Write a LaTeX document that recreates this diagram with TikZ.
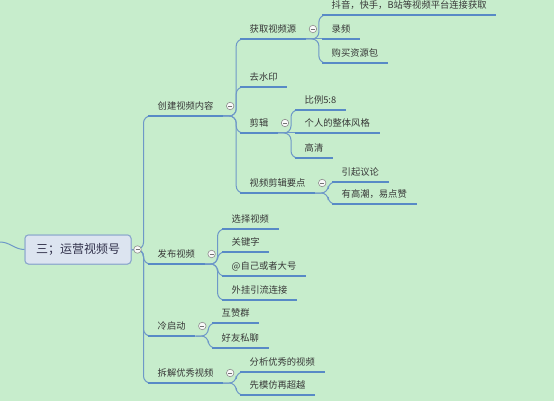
\documentclass[tikz,border=0pt]{standalone}
\usepackage{fontspec}
\newfontfamily\cjk{Noto Sans CJK SC}
\definecolor{bgc}{RGB}{199,237,204}
\definecolor{ulc}{RGB}{88,138,198}
\definecolor{cnc}{RGB}{110,152,200}
\definecolor{txc}{RGB}{55,55,55}
\definecolor{rootfill}{RGB}{220,228,240}
\definecolor{rootdraw}{RGB}{140,168,204}
\tikzset{
  topic/.style={anchor=south west, font=\cjk\fontsize{9.3}{11}\selectfont, text=txc,
    inner xsep=9.5pt, inner ysep=4pt, text height=7.5pt, text depth=2pt},
  rootbox/.style={draw=rootdraw, fill=rootfill, line width=1pt, rounded corners=3.5pt,
    minimum width=106pt, minimum height=29pt, inner sep=0pt,
    font=\cjk\fontsize{12}{14}\selectfont, text=txc!90!blue},
  uline/.style={ulc, line width=2.3pt},
  conn/.style={cnc, line width=1pt, rounded corners=7pt},
  collapse/.style={circle, draw=black!45, fill=white!95!gray, line width=0.6pt,
    minimum size=7.5pt, inner sep=0pt,
    path picture={\draw[black!55, line width=0.6pt]
      ([xshift=-2pt]path picture bounding box.center) --
      ([xshift=2pt]path picture bounding box.center);}}
}
\begin{document}
\begin{tikzpicture}[x=1pt, y=-1pt]
\fill[bgc] (0,0) rectangle (554,401);
\useasboundingbox (0,0) rectangle (554,401);

% root
\node[rootbox] (R) at (78,249.5) {三；运营视频号};
\coordinate (in) at (0,242);

% level 1
\node[topic] (A) at (148,116) {创建视频内容};
\node[topic] (B) at (148,264) {发布视频};
\node[topic] (C) at (148,336) {冷启动};
\node[topic] (D) at (148,383) {拆解优秀视频};

% under A
\node[topic] (A1) at (240,39) {获取视频源};
\node[topic] (A2) at (240,87) {去水印};
\node[topic] (A3) at (240,133) {剪辑};
\node[topic] (A4) at (240,193) {视频剪辑要点};

\node[topic] (A11) at (322,15) {抖音，快手，B站等视频平台连接获取};
\node[topic] (A12) at (322,39) {录频};
\node[topic] (A13) at (322,63) {购买资源包};

\node[topic] (A31) at (295,110) {比例5:8};
\node[topic] (A32) at (295,133) {个人的整体风格};
\node[topic] (A33) at (295,158) {高清};

\node[topic] (A41) at (332,182) {引起议论};
\node[topic] (A42) at (332,204) {有高潮，易点赞};

% under B
\node[topic] (B1) at (222,229) {选择视频};
\node[topic] (B2) at (222,252) {关键字};
\node[topic] (B3) at (222,276) {@自己或者大号};
\node[topic] (B4) at (222,300) {外挂引流连接};

% under C
\node[topic] (C1) at (212,323) {互赞群};
\node[topic] (C2) at (212,348) {好友私聊};

% under D
\node[topic] (D1) at (240,372) {分析优秀的视频};
\node[topic] (D2) at (240,395) {先模仿再超越};

% connectors
\begin{scope}[on background layer/.style={}]
\draw[conn] (in) to[out=0,in=180] (R.west);
\foreach \c in {A,B,C,D}
  \draw[conn] (R.east) -- ++(12,0) |- (\c.south west);
\foreach \p/\c in {A/A1,A/A2,A/A3,A/A4,A1/A11,A1/A13,A3/A31,A3/A33,A4/A41,A4/A42,
                   B/B1,B/B2,B/B3,B/B4,C/C1,C/C2,D/D1,D/D2}
  \draw[conn] (\p.south east) -- ++(13,0) |- (\c.south west);
\draw[conn] (A1.south east) -- (A12.south west);
\draw[conn] (A3.south east) -- (A32.south west);
\end{scope}

% underlines
\foreach \n in {A,B,C,D,A1,A2,A3,A4,A11,A12,A13,A31,A32,A33,A41,A42,B1,B2,B3,B4,C1,C2,D1,D2}
  \draw[uline] (\n.south west) -- (\n.south east);

% redraw root on top
\node[rootbox] (R2) at (R.center) {三；运营视频号};

% collapse markers
\node[collapse] (cR) at ([xshift=6pt]R.east) {};
\foreach \n in {A,B,C,D,A1,A3,A4}
  \node[collapse] (c\n) at ([shift={(7pt,10pt)}]\n.south east) {};
\end{tikzpicture}
\end{document}
